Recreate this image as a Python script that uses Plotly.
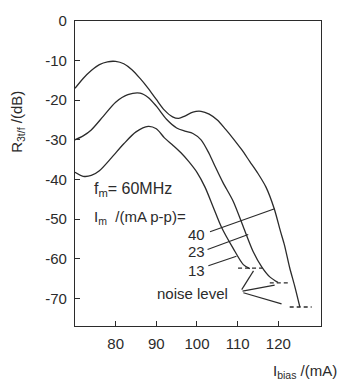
import plotly.graph_objects as go

# ---- data ----
x_40 = [70, 72, 74, 76, 78, 80, 82, 84, 86, 88, 90, 92, 94, 95.5, 97, 99, 101, 103, 105, 107, 109, 111, 113, 115, 117, 119, 120.5, 121.5, 122.8, 124, 125.3]
y_40 = [-17, -14.5, -12.5, -11, -10.3, -10.2, -10.8, -12.3, -14.5, -17, -19.8, -22.5, -24.2, -24.6, -24, -23, -22.8, -23.5, -25, -27.3, -29.8, -32.5, -35.5, -38.5, -42, -47.4, -53, -56.5, -62.3, -66.8, -72.2]

x_23 = [70, 72, 74, 77, 80, 83, 86, 88, 90, 92.5, 95, 97, 99, 101, 103, 104.5, 106.4, 108.9, 111.4, 113.8, 116, 117.9, 119.9]
y_23 = [-30, -29, -27.5, -24, -20.5, -18.6, -18.2, -19.3, -21.5, -24.8, -27, -27.8, -28.4, -30, -33.5, -36.8, -40.8, -45.5, -52, -58.2, -62.2, -64.6, -66]

x_13 = [70, 72, 74, 76, 79, 82, 85, 88, 90, 92, 94, 96, 98, 100, 102, 104, 106, 108.9, 111.4, 113]
y_13 = [-38.2, -39.2, -39, -37.8, -34.5, -31, -28, -26.6, -27.2, -29.5, -31.3, -33.2, -35.5, -38.2, -42, -47, -52, -57.4, -61.5, -62.5]

# noise levels (dashed) for 13, 23, 40 mA p-p
noise_x = [[110.1, 116.1], [117.9, 122.4], [122.8, 128.2]]
noise_y = [-62.4, -66.1, -72.2]

# label leaders
curve_labels = ["40", "23", "13"]
label_y = [-54.0, -58.3, -62.9]
leader_x = [[103.2, 119.1], [102.6, 112.6], [102.8, 109.7]]
leader_y = [[-53.2, -47.4], [-57.7, -53.9], [-61.8, -59.4]]
noise_leader_x = [[111.0, 113.9], [111.2, 119.1], [111.4, 120.8]]
noise_leader_y = [[-67.8, -63.1], [-68.2, -66.7], [-68.6, -71.4]]

x_ticks = [80, 90, 100, 110, 120]
y_ticks = [0, -10, -20, -30, -40, -50, -60, -70]
y_ticktext = ["0", "-10", "-20", "-30", "-40", "-50", "-60", "-70"]

ink = "#2b2b2b"
font_family = "Liberation Sans, Arial, sans-serif"

fig = go.Figure()
for xs, ys in [(x_40, y_40), (x_23, y_23), (x_13, y_13)]:
    fig.add_trace(go.Scatter(x=xs, y=ys, mode="lines",
                             line=dict(color=ink, width=1.3, shape="spline", smoothing=0.8),
                             showlegend=False, hoverinfo="skip"))

for xs, yv in zip(noise_x, noise_y):
    fig.add_trace(go.Scatter(x=xs, y=[yv, yv], mode="lines",
                             line=dict(color=ink, width=1.3, dash="4px,3px"),
                             showlegend=False, hoverinfo="skip"))

for xs, ys in zip(leader_x + noise_leader_x, leader_y + noise_leader_y):
    fig.add_trace(go.Scatter(x=xs, y=ys, mode="lines",
                             line=dict(color=ink, width=1.2),
                             showlegend=False, hoverinfo="skip"))

ann_font = dict(family=font_family, size=15, color=ink)
annotations = []
for t, yv in zip(curve_labels, label_y):
    annotations.append(dict(x=102.4, y=yv, text=t, showarrow=False, xanchor="right",
                            yanchor="middle", font=ann_font))
annotations += [
    dict(x=99, y=-68.9, text="noise level", showarrow=False, xanchor="center",
         yanchor="middle", font=ann_font),
    dict(x=74.2, y=-42.6, text="f<sub>m</sub>= 60MHz", showarrow=False, xanchor="left",
         yanchor="middle", font=dict(family=font_family, size=16, color=ink)),
    dict(x=74.2, y=-49.6, text="I<sub>m</sub>\u00a0\u00a0/(mA p-p)=", showarrow=False, xanchor="left",
         yanchor="middle", font=ann_font),
    dict(x=-0.235, y=0.67, xref="paper", yref="paper", text="R<sub>3t/f</sub> /(dB)",
         textangle=-90, showarrow=False, xanchor="center", yanchor="middle",
         font=dict(family=font_family, size=15, color=ink)),
    dict(x=1.075, y=-0.148, xref="paper", yref="paper", text="I<sub>bias</sub> /(mA)",
         showarrow=False, xanchor="right", yanchor="middle",
         font=dict(family=font_family, size=15, color=ink)),
]

axis_common = dict(showline=True, mirror=True, linecolor=ink, linewidth=1.3,
                   ticks="inside", ticklen=5, tickcolor=ink, tickwidth=1.2,
                   showgrid=False, zeroline=False,
                   tickfont=dict(family=font_family, size=15, color=ink))

fig.update_layout(
    width=341, height=383, autosize=False,
    margin=dict(l=75, r=20, t=15, b=57),
    paper_bgcolor="white", plot_bgcolor="white",
    xaxis=dict(range=[70, 130.5], tickvals=x_ticks, ticklabelstandoff=4, **axis_common),
    yaxis=dict(range=[-77, 0], tickvals=y_ticks, ticktext=y_ticktext, ticklabelstandoff=4, **axis_common),
    annotations=annotations,
    showlegend=False,
)

fig.write_html("out.html", config={"displayModeBar": False},
               post_script="document.body.style.margin='0';document.body.style.overflow='hidden';")
